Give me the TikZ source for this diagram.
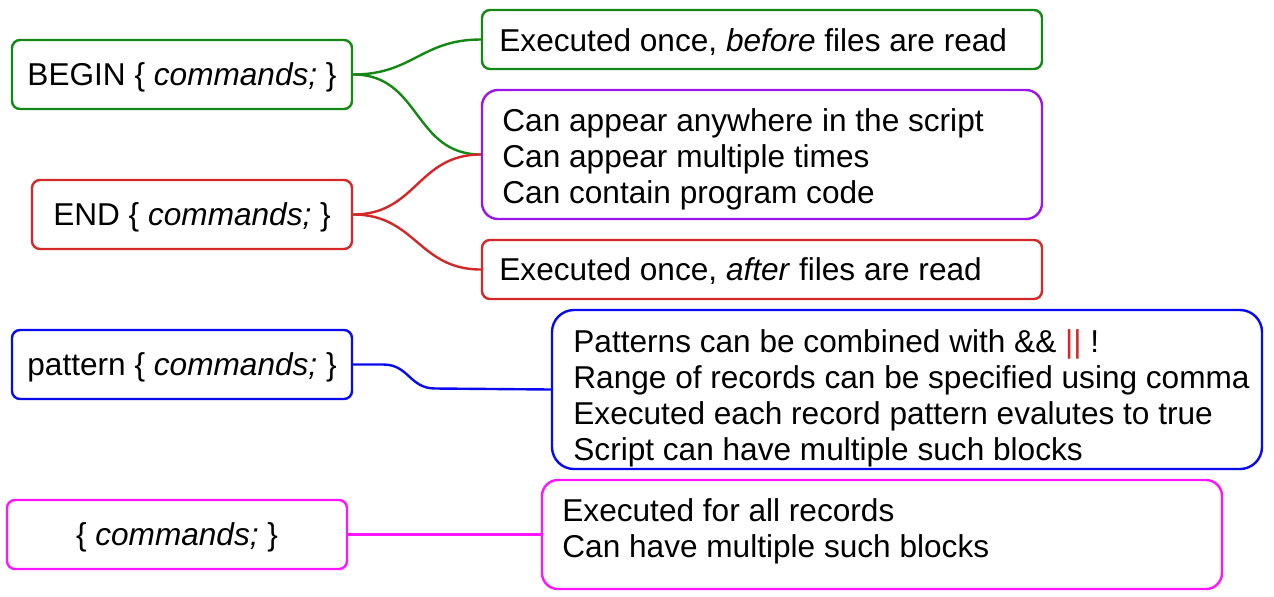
\documentclass[tikz,border=0pt]{standalone}
\usepackage{fontspec}
\setmainfont{Liberation Sans}
\usepackage{xcolor}
\usepackage{tikz}
\usetikzlibrary{positioning, calc}
\definecolor{grnline}{RGB}{20, 136, 20}
\definecolor{redline}{RGB}{210, 40, 40}
\definecolor{purpline}{RGB}{155, 20, 232}
\definecolor{blueline}{RGB}{10, 10, 238}
\definecolor{magline}{RGB}{255, 20, 255}

\begin{document}
\begin{tikzpicture}[x=0.5pt, y=-0.5pt,
  every node/.style={font=\fontsize{15.8}{18}\selectfont},
  keybox/.style={draw, line width=1.2pt, rounded corners=4pt,
                 minimum height=34.5pt, inner sep=0pt, text height=11.3pt, text depth=0pt},
  framebox/.style={draw, line width=1.2pt, inner sep=0pt},
  notes/.style={anchor=west, align=left, inner sep=0pt},
  link/.style={line width=1.2pt, looseness=1.15}]

  \useasboundingbox (0,0) rectangle (1274,596);

  % ---------- BEGIN / END ----------
  \node[keybox, draw=grnline, minimum width=170pt] (begbox) at (182,74.5)
    {BEGIN \{ \textit{commands;} \}};
  \node[keybox, draw=redline, minimum width=160pt] (endbox) at (192,214.5)
    {END \{ \textit{commands;} \}};

  \node[framebox, grnline, rounded corners=4pt, minimum width=280pt, minimum height=29.5pt]
    (beforebox) at (762,39.5) {};
  \node[notes] (beforetxt) at (499,42.5) {Executed once, \textit{before} files are read};

  \node[framebox, purpline, rounded corners=8pt, minimum width=280pt, minimum height=64.5pt]
    (anybox) at (762,154.5) {};
  \node[notes] (anytxt) at (502,159.5)
    {Can appear anywhere in the script\\Can appear multiple times\\Can contain program code};

  \node[framebox, redline, rounded corners=4pt, minimum width=280pt, minimum height=29.5pt]
    (afterbox) at (762,269.5) {};
  \node[notes] (aftertxt) at (499,271.5) {Executed once, \textit{after} files are read};

  \draw[link, grnline] (begbox.east) to[out=0, in=180] (beforebox.west);
  \draw[link, grnline] (begbox.east) to[out=0, in=180] (anybox.west);
  \draw[link, redline] (endbox.east) to[out=0, in=180] (anybox.west);
  \draw[link, redline] (endbox.east) to[out=0, in=180] (afterbox.west);

  % ---------- pattern ----------
  \node[keybox, draw=blueline, minimum width=170pt] (patbox) at (182,364.5)
    {pattern \{ \textit{commands;} \}};
  \node[framebox, blueline, rounded corners=11pt, minimum width=355pt, minimum height=79.5pt]
    (patnotes) at (907,389.5) {};
  \node[notes] (pattxt) at (573,398.5)
    {Patterns can be combined with \&\& {\color{redline}||} !\\
     Range of records can be specified using comma\\
     Executed each record pattern evalutes to true\\
     Script can have multiple such blocks};
  \draw[link, blueline] (patbox.east) -- ++(30,0) to[out=0, in=180] ++(52,24)
    -- (patnotes.west);

  % ---------- plain block ----------
  \node[keybox, draw=magline, minimum width=170pt] (allbox) at (177,534.5)
    {\{ \textit{commands;} \}};
  \node[framebox, magline, rounded corners=8pt, minimum width=340pt, minimum height=54.5pt]
    (allnotes) at (882,534.5) {};
  \node[notes] (alltxt) at (562,531)
    {Executed for all records\\Can have multiple such blocks};
  \draw[link, magline] (allbox.east) -- (allnotes.west);
\end{tikzpicture}
\end{document}
